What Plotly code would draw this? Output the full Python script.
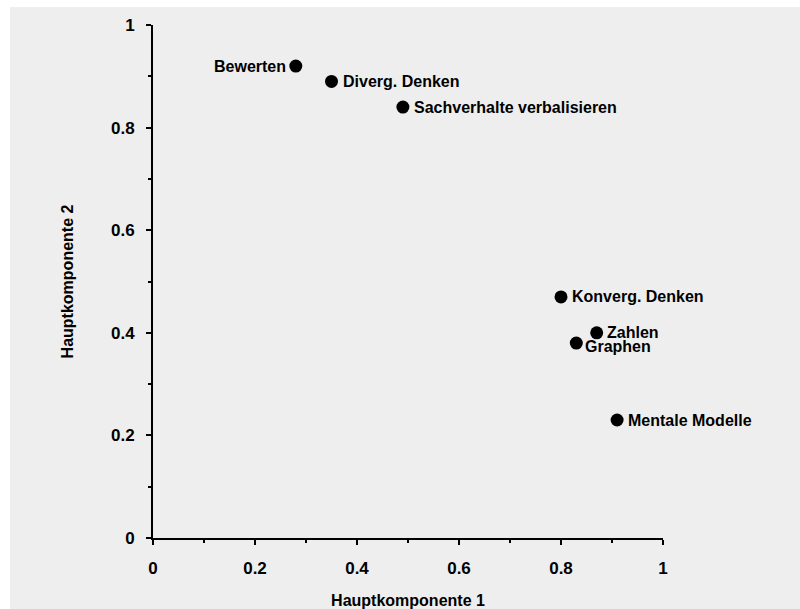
import plotly.graph_objects as go

labels = ["Bewerten", "Diverg. Denken", "Sachverhalte verbalisieren", "Konverg. Denken",
          "Zahlen", "Graphen", "Mentale Modelle"]
pc1 = [0.28, 0.35, 0.49, 0.80, 0.87, 0.83, 0.91]
pc2 = [0.92, 0.89, 0.84, 0.47, 0.40, 0.38, 0.23]
tick_vals = [0, 0.2, 0.4, 0.6, 0.8, 1]
tick_text = ["0", "0.2", "0.4", "0.6", "0.8", "1"]

# label placement (style only): horizontal anchor and pixel offsets
label_anchor = ["right", "left", "left", "left", "left", "left", "left"]
label_dx = [-10, 11, 11, 11, 10, 9, 11]
label_dy = [0, 0, 0, 0, 0, -3, 0]

W, H = 800, 609
L, R, T, B = 153, 137, 25, 71
pw, ph = W - L - R, H - T - B

FONT = "Liberation Sans, Arial, sans-serif"
BG = "#eeeeee"

fig = go.Figure()
fig.add_trace(go.Scatter(
    x=pc1, y=pc2, mode="markers",
    marker=dict(size=13, color="black"),
    hoverinfo="skip", cliponaxis=False, showlegend=False,
))

for lab, x, y, anc, dx, dy in zip(labels, pc1, pc2, label_anchor, label_dx, label_dy):
    fig.add_annotation(x=x, y=y, xref="x", yref="y", text="<b>%s</b>" % lab,
                       showarrow=False, xanchor=anc, yanchor="middle",
                       xshift=dx, yshift=dy, borderpad=0, borderwidth=0,
                       font=dict(family=FONT, size=16, color="black"))

# gray background panel
fig.add_shape(type="rect", xref="paper", yref="paper", layer="below",
              x0=(10 - L) / pw, x1=(W - L) / pw,
              y0=(H - B - H) / ph, y1=(H - B - 7) / ph,
              fillcolor=BG, line=dict(width=0))

axis_common = dict(
    range=[0, 1], tickvals=tick_vals, ticktext=["<b>%s</b>" % t for t in tick_text],
    ticks="outside", ticklen=5, tickwidth=2, tickcolor="black",
    showline=True, linewidth=2, linecolor="black", showgrid=False, zeroline=False,
    tickfont=dict(family=FONT, size=17, color="black"),
    minor=dict(dtick=0.1, ticks="outside", ticklen=3, tickwidth=2, tickcolor="black", showgrid=False),
    automargin=False,
)

fig.update_layout(
    width=W, height=H,
    margin=dict(l=L, r=R, t=T, b=B, autoexpand=False),
    paper_bgcolor="white", plot_bgcolor=BG,
    xaxis=dict(**axis_common, title=dict(text="<b>Hauptkomponente 1</b>", standoff=21,
                                         font=dict(family=FONT, size=16, color="black"))),
    yaxis=dict(**axis_common, title=dict(text="<b>Hauptkomponente 2</b>", standoff=33,
                                         font=dict(family=FONT, size=16, color="black"))),
)
fig.update_xaxes(ticklabelstandoff=9)
fig.update_yaxes(ticklabelstandoff=8)

fig.write_html("out.html", config={"displayModeBar": False},
               post_script="document.body.style.margin='0';document.body.style.overflow='hidden';")
